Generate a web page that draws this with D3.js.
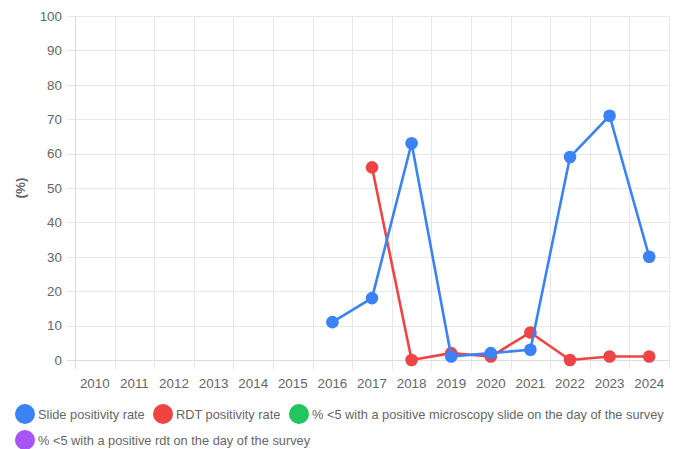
<!DOCTYPE html>
<html>
<head>
<meta charset="utf-8">
<script src="https://cdn.jsdelivr.net/npm/d3@7"></script>
<style>
  body { margin: 0; background: #fff; }
  text { font-family: "Liberation Sans", Arial, Helvetica, sans-serif; }
</style>
</head>
<body>
<div id="chart"></div>
<script>
var w = 678;
var h = 449;

// data
var years = ["2010","2011","2012","2013","2014","2015","2016","2017","2018","2019","2020","2021","2022","2023","2024"];
var slideRate = [null,null,null,null,null,null,11,18,63,1,2,3,59,71,30];
var rdtRate = [null,null,null,null,null,null,null,56,0,2,1,8,0,1,1];
var microscopyU5 = [null,null,null,null,null,null,null,null,null,null,null,null,null,null,null];
var rdtU5 = [null,null,null,null,null,null,null,null,null,null,null,null,null,null,null];
var yTicks = [0,10,20,30,40,50,60,70,80,90,100];

var seriesNames = ["Slide positivity rate", "RDT positivity rate",
  "% <5 with a positive microscopy slide on the day of the survey",
  "% <5 with a positive rdt on the day of the survey"];
var seriesColors = ["#3b82f6", "#ef4444", "#22c55e", "#a855f7"];
var seriesData = [slideRate, rdtRate, microscopyU5, rdtU5];

// plot box (window.top is reserved, so use other names)
var pLeft = 75, pRight = 669, pTop = 16, pBottom = 360;

var x = d3.scaleBand().domain(years).range([pLeft, pRight]);
var y = d3.scaleLinear().domain([0, 100]).range([pBottom, pTop]);

var svg = d3.select("#chart")
  .append("svg")
  .attr("width", w)
  .attr("height", h);

var gridColor = "#e8e8ec";

// horizontal grid + tick marks
svg.append("g")
  .selectAll("line")
  .data(yTicks)
  .enter()
  .append("line")
  .attr("x1", pLeft - 8)
  .attr("x2", pRight)
  .attr("y1", function(d) { return Math.round(y(d)) + 0.5; })
  .attr("y2", function(d) { return Math.round(y(d)) + 0.5; })
  .style("stroke", gridColor)
  .style("stroke-width", 1);

// vertical grid at band edges
var edges = years.map(function(d) { return x(d); }).concat([pRight]);
svg.append("g")
  .selectAll("line")
  .data(edges)
  .enter()
  .append("line")
  .attr("x1", function(d) { return Math.round(d) + 0.5; })
  .attr("x2", function(d) { return Math.round(d) + 0.5; })
  .attr("y1", pTop)
  .attr("y2", pBottom + 9)
  .style("stroke", gridColor)
  .style("stroke-width", 1);

// axis lines a bit darker
svg.append("line")
  .attr("x1", pLeft + 0.5).attr("x2", pLeft + 0.5)
  .attr("y1", pTop).attr("y2", pBottom + 9)
  .style("stroke", "#dcdce0");
svg.append("line")
  .attr("x1", pLeft - 8).attr("x2", pRight + 1)
  .attr("y1", pBottom + 0.5).attr("y2", pBottom + 0.5)
  .style("stroke", "#dcdce0");

// y tick labels
svg.append("g")
  .selectAll("text")
  .data(yTicks)
  .enter()
  .append("text")
  .attr("x", 62)
  .attr("y", function(d) { return y(d); })
  .attr("dy", "0.36em")
  .style("text-anchor", "end")
  .style("font-size", "13.4px")
  .style("fill", "#666")
  .text(function(d) { return d; });

// x tick labels
svg.append("g")
  .selectAll("text")
  .data(years)
  .enter()
  .append("text")
  .attr("x", function(d) { return x(d) + x.bandwidth() / 2; })
  .attr("y", 383)
  .attr("dy", "0.36em")
  .style("text-anchor", "middle")
  .style("font-size", "13.4px")
  .style("fill", "#666")
  .text(function(d) { return d; });

// y axis title
svg.append("text")
  .attr("transform", "translate(20," + ((pTop + pBottom) / 2) + ") rotate(-90)")
  .attr("dy", "0.36em")
  .style("text-anchor", "middle")
  .style("font-size", "13.4px")
  .style("font-weight", "bold")
  .style("fill", "#666")
  .text("(%)");

// lines - draw in reverse so the first series ends up on top
var line = d3.line()
  .defined(function(d) { return d != null; })
  .x(function(d, i) { return x(years[i]) + x.bandwidth() / 2; })
  .y(function(d) { return y(d); });

for (var s = seriesData.length - 1; s >= 0; s--) {
  var g = svg.append("g");
  g.append("path")
    .datum(seriesData[s])
    .attr("d", line)
    .style("fill", "none")
    .style("stroke", seriesColors[s])
    .style("stroke-width", 2.6)
    .style("stroke-linejoin", "round");
  g.selectAll("circle")
    .data(seriesData[s].map(function(v, i) { return {v: v, i: i}; })
      .filter(function(d) { return d.v != null; }))
    .enter()
    .append("circle")
    .attr("cx", function(d) { return x(years[d.i]) + x.bandwidth() / 2; })
    .attr("cy", function(d) { return y(d.v); })
    .attr("r", 6.3)
    .style("fill", seriesColors[s]);
}

// legend
var legendPos = [[25, 414], [163, 414], [299, 414], [25, 440]];
var legend = svg.append("g")
  .selectAll("g")
  .data(seriesNames)
  .enter()
  .append("g")
  .attr("transform", function(d, i) { return "translate(" + legendPos[i][0] + "," + legendPos[i][1] + ")"; });

legend.append("circle")
  .attr("r", 10)
  .style("fill", function(d, i) { return seriesColors[i]; });

legend.append("text")
  .attr("x", 13)
  .attr("dy", "0.36em")
  .style("font-size", "12.8px")
  .style("fill", "#666")
  .text(function(d) { return d; });
</script>
</body>
</html>
